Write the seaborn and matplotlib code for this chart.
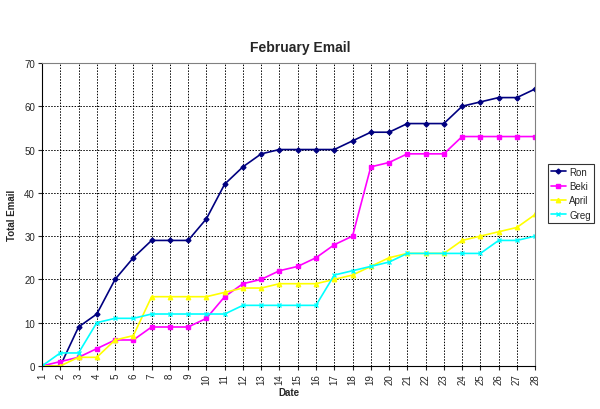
import pandas as pd
import matplotlib
matplotlib.use("Agg")
import matplotlib.pyplot as plt
import seaborn as sns

days = list(range(1, 29))
ron = [0, 0, 9, 12, 20, 25, 29, 29, 29, 34, 42, 46, 49, 50, 50, 50, 50, 52, 54, 54, 56, 56, 56, 60, 61, 62, 62, 64]
beki = [0, 1, 2, 4, 6, 6, 9, 9, 9, 11, 16, 19, 20, 22, 23, 25, 28, 30, 46, 47, 49, 49, 49, 53, 53, 53, 53, 53]
april = [0, 0, 2, 2, 6, 7, 16, 16, 16, 16, 17, 18, 18, 19, 19, 19, 20, 21, 23, 25, 26, 26, 26, 29, 30, 31, 32, 35]
greg = [0, 3, 3, 10, 11, 11, 12, 12, 12, 12, 12, 14, 14, 14, 14, 14, 21, 22, 23, 24, 26, 26, 26, 26, 26, 29, 29, 30]

names = ["Ron", "Beki", "April", "Greg"]
colors = {"Ron": "#000080", "Beki": "#FF00FF", "April": "#FFFF00", "Greg": "#00FFFF"}
markers = {"Ron": "D", "Beki": "s", "April": "^", "Greg": "x"}
msizes = {"Ron": 2.5, "Beki": 3, "April": 3.2, "Greg": 3}

df = pd.DataFrame({
    "Date": days * 4,
    "Total Email": ron + beki + april + greg,
    "Person": sum([[n] * len(days) for n in names], []),
})

sns.set_style("white")
plt.rcParams["font.family"] = ["Liberation Sans", "DejaVu Sans"]

fig = plt.figure(figsize=(6, 4.1), dpi=100)
ax = fig.add_axes([0.07, 0.105, 0.822, 0.739])

for n in names:
    sub = df[df["Person"] == n]
    sns.lineplot(data=sub, x="Date", y="Total Email", ax=ax, color=colors[n],
                 marker=markers[n], markersize=msizes[n], markeredgecolor=colors[n],
                 markeredgewidth=1, linewidth=1.2, label=n)

ax.set_xlim(1, 28)
ax.set_ylim(0, 70)
ax.set_xticks(days)
ax.set_xticklabels([str(d) for d in days], rotation=90, fontsize=7)
ax.set_yticks(range(0, 71, 10))
ax.tick_params(axis="y", labelsize=7, length=3, left=True, pad=2)
ax.tick_params(axis="x", length=3, bottom=True, pad=2)
ax.grid(True, color="black", linestyle=(0, (1.5, 1.5)), linewidth=0.7)
for side in ["top", "right"]:
    ax.spines[side].set_color("#808080")
for side in ["left", "bottom"]:
    ax.spines[side].set_color("black")

ax.set_xlabel("Date", fontsize=7, fontweight="bold", labelpad=2)
ax.set_ylabel("Total Email", fontsize=7, fontweight="bold")
ax.yaxis.set_label_coords(-0.05, 0.5)
fig.text(0.5, 0.883, "February Email", fontsize=10, fontweight="bold",
         ha="center", va="center")

leg = ax.legend(loc="upper left", bbox_to_anchor=(0.913, 0.598),
                bbox_transform=fig.transFigure, fontsize=7,
                frameon=True, fancybox=False, handlelength=1.6, handletextpad=0.3,
                borderpad=0.3, borderaxespad=0, labelspacing=0.45)
leg.get_frame().set_edgecolor("black")
leg.get_frame().set_linewidth(0.8)

fig.savefig("out.png", dpi=100)
